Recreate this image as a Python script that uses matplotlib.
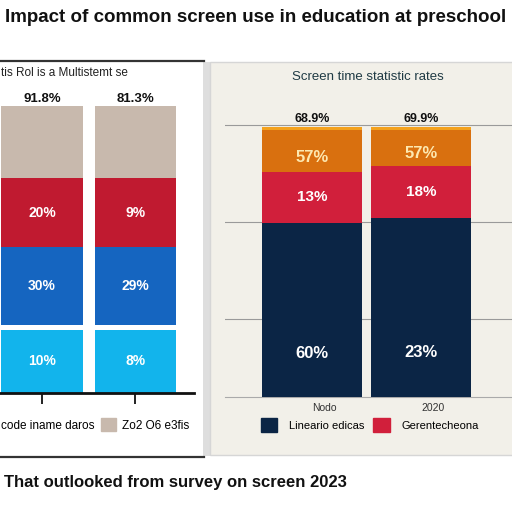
import matplotlib.pyplot as plt
from matplotlib.patches import Rectangle, Patch
from matplotlib.lines import Line2D
import numpy as np

# Left panel: four stacked segments per bar (bottom to top)
left_groups = ["A", "B"]
left_cyan = [20.2, 20.2]
left_blue = [24.9, 24.9]
left_red = [22.1, 22.1]
left_tan = [23.1, 23.1]
left_cyan_labels = ["10%", "8%"]
left_blue_labels = ["30%", "29%"]
left_red_labels = ["20%", "9%"]
left_top_labels = ["91.8%", "81.3%"]
left_legend = ["code iname daros", "Zo2 O6 e3fis"]

# Right panel: stacked bars (bottom to top)
right_groups = ["Nodo", "2020"]
right_navy = [44.8, 46.1]
right_red = [13.2, 13.4]
right_orange = [10.8, 9.3]
right_stripe = [0.8, 0.8]
right_navy_labels = ["60%", "23%"]
right_red_labels = ["13%", "18%"]
right_orange_labels = ["57%", "57%"]
right_top_labels = ["68.9%", "69.9%"]
right_legend = ["Lineario edicas", "Gerentecheona"]

TAN, LRED, BLUE, CYAN = "#c8b9ad", "#c01a30", "#1565c0", "#12b4ec"
NAVY, RRED, ORANGE, STRIPE = "#0b2545", "#d11f3b", "#d9700f", "#f4a21e"
BEIGE = "#f2f0e9"

plt.rcParams['font.family'] = ['Liberation Sans', 'DejaVu Sans']

W = 512.0
def fx(px):
    return px / W
def fy(px):
    return 1 - px / W

fig = plt.figure(figsize=(5.12, 5.12), dpi=100)
fig.patch.set_facecolor("white")

# panel backgrounds and frames
fig.patches.append(Rectangle((fx(203), fy(456)), fx(9), (456 - 62) / W, transform=fig.transFigure,
                             facecolor="#dedede", edgecolor="none", zorder=-5))
fig.patches.append(Rectangle((fx(210), fy(455)), fx(310), (455 - 62) / W, transform=fig.transFigure,
                             facecolor=BEIGE, edgecolor="#d6d6d6", lw=1, zorder=-5))
for ypx in (61, 457):
    fig.lines.append(Line2D([0, fx(204)], [fy(ypx), fy(ypx)], transform=fig.transFigure,
                            color="#333333", lw=1.6))

fig.text(0.5, fy(17), "Impact of common screen use in education at preschool",
         ha="center", va="center", fontsize=13.5, fontweight="bold", color="#111111")
fig.text(fx(4), fy(483), "That outlooked from survey on screen 2023",
         ha="left", va="center", fontsize=12, fontweight="bold", color="#111111")

# ---------- left chart ----------
axl = fig.add_axes([0, fy(393), fx(194), (393 - 95) / W])
axl.set_facecolor("none")
x = np.arange(len(left_groups))
wl = 0.87
gap = 1.6
axl.bar(x, left_cyan, wl, color=CYAN)
b_blue = np.array(left_cyan) + gap
axl.bar(x, left_blue, wl, bottom=b_blue, color=BLUE)
b_red = b_blue + np.array(left_blue)
axl.bar(x, left_red, wl, bottom=b_red, color=LRED)
b_tan = b_red + np.array(left_red)
axl.bar(x, left_tan, wl, bottom=b_tan, color=TAN)
top_l = b_tan + np.array(left_tan)
for i in x:
    axl.text(i, left_cyan[i] / 2, left_cyan_labels[i], ha="center", va="center",
             color="white", fontsize=10, fontweight="bold")
    axl.text(i, b_blue[i] + left_blue[i] / 2, left_blue_labels[i], ha="center", va="center",
             color="white", fontsize=10, fontweight="bold")
    axl.text(i, b_red[i] + left_red[i] / 2, left_red_labels[i], ha="center", va="center",
             color="white", fontsize=10, fontweight="bold")
    axl.text(i, top_l[i] + 0.3, left_top_labels[i], ha="center", va="bottom",
             color="#111111", fontsize=9.5, fontweight="bold", clip_on=False)
axl.set_xlim(-0.45, 1.63)
axl.set_ylim(0, 95.4)
for s in ("top", "right", "left"):
    axl.spines[s].set_visible(False)
axl.spines["bottom"].set_linewidth(2)
axl.spines["bottom"].set_color("#111111")
axl.set_yticks([])
axl.set_xticks(x)
axl.set_xticklabels([])
axl.tick_params(axis="x", length=8, width=1.4, color="#222222")
fig.text(fx(1), fy(73), "tis Rol is a Multistemt se", ha="left", va="center",
         fontsize=8.5, color="#222222")
lh = [Patch(color=CYAN), Patch(color=TAN)]
fig.legend(lh, left_legend, loc="center left", bbox_to_anchor=(fx(-20), fy(425)),
           ncol=2, frameon=False, fontsize=8.5, handlelength=1.3, handleheight=1.3,
           handletextpad=0.5, columnspacing=0.5, borderpad=0, borderaxespad=0)

# ---------- right chart ----------
axr = fig.add_axes([fx(225), fy(397), fx(287), (397 - 100) / W])
axr.set_facecolor("none")
xr = np.arange(len(right_groups))
wr = 0.92
axr.bar(xr, right_navy, wr, color=NAVY, zorder=3)
br_red = np.array(right_navy)
axr.bar(xr, right_red, wr, bottom=br_red, color=RRED, zorder=3)
br_or = br_red + np.array(right_red)
axr.bar(xr, right_orange, wr, bottom=br_or, color=ORANGE, zorder=3)
br_st = br_or + np.array(right_orange)
axr.bar(xr, right_stripe, wr, bottom=br_st, color=STRIPE, zorder=3)
top_r = br_st + np.array(right_stripe)
for i in xr:
    axr.text(i, right_navy[i] * 0.25, right_navy_labels[i], ha="center", va="center",
             color="white", fontsize=12, fontweight="bold", zorder=4)
    axr.text(i, br_red[i] + right_red[i] / 2, right_red_labels[i], ha="center", va="center",
             color="white", fontsize=11, fontweight="bold", zorder=4)
    axr.text(i, br_or[i] + right_orange[i] * 0.35, right_orange_labels[i], ha="center",
             va="center", color="#fde8b0", fontsize=12, fontweight="bold", zorder=4)
    axr.text(i, top_r[i] + 0.4, right_top_labels[i], ha="center", va="bottom",
             color="#111111", fontsize=9, fontweight="bold", zorder=4, clip_on=False)
axr.set_xlim(-0.80, 1.835)
axr.set_ylim(0, 76.5)
axr.set_yticks([20, 45, 70])
axr.set_yticklabels([])
axr.tick_params(axis="y", length=0)
axr.grid(axis="y", color="#9a9a9a", lw=0.8, zorder=0)
for s in ("top", "right", "left"):
    axr.spines[s].set_visible(False)
axr.spines["bottom"].set_color("#aaaaaa")
axr.spines["bottom"].set_linewidth(0.8)
axr.set_xticks(xr)
axr.set_xticklabels(right_groups, ha="left", fontsize=7.5, color="#333333")
axr.tick_params(axis="x", length=0, pad=4)
fig.text(fx(368), fy(77), "Screen time statistic rates", ha="center", va="center",
         fontsize=9.5, color="#1f3a44")
rh = [Patch(color=NAVY), Patch(color=RRED)]
fig.legend(rh, right_legend, loc="center", bbox_to_anchor=(fx(370), fy(425)),
           ncol=2, frameon=False, fontsize=8, handlelength=1.45, handleheight=1.45,
           handletextpad=1.1, columnspacing=0.8, borderpad=0, borderaxespad=0)

fig.savefig("out.png", dpi=100)
